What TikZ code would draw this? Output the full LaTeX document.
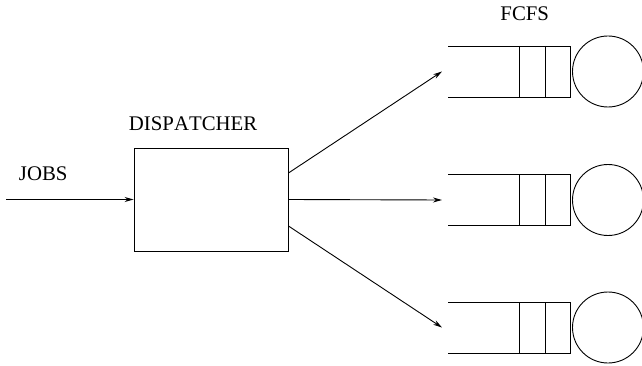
\documentclass[tikz,border=0pt]{standalone}
\usepackage{fontspec}
\setmainfont[Kerning=Off]{Liberation Serif}
\usetikzlibrary{arrows.meta}
\begin{document}
\begin{tikzpicture}[x=1pt,y=-1pt,
  line width=0.9pt,
  lbl/.style={anchor=base west,inner sep=0pt,font=\fontsize{20.8}{24}\selectfont},
  box/.style={draw,minimum width=154pt,minimum height=103pt,inner sep=0pt},
  server/.style={draw,circle,minimum size=71pt,inner sep=0pt},
  flow/.style={-{Stealth[length=9pt,width=5pt,inset=3pt]}}]
\useasboundingbox (0,0) rectangle (642,366);
\node[box] (disp) at (211,199.5) {};
\coordinate (src) at (6,199.5);
\node[lbl] (jobs) at (18.5,181) {JOBS};
\node[lbl] (dlab) at (128.5,131) {DISPATCHER};
\node[lbl] (flab) at (500,21) {FCFS};
\foreach \i/\y in {1/71.5,2/200,3/327.5}{
  \draw (448,\y-25.5) -- (570,\y-25.5) -- (570,\y+25.5) -- (448,\y+25.5);
  \draw (519,\y-25.5) -- (519,\y+25.5);
  \draw (545,\y-25.5) -- (545,\y+25.5);
  \node[server] (s\i) at (608,\y) {};
  \coordinate (q\i) at (442,\y);
}
\draw[flow] (src) -- (disp.west);
\draw[flow] (disp.east |- 0,173) -- (q1);
\draw[flow] (disp.east) -- (q2);
\draw[flow] (disp.east |- 0,226) -- (q3);
\end{tikzpicture}
\end{document}
